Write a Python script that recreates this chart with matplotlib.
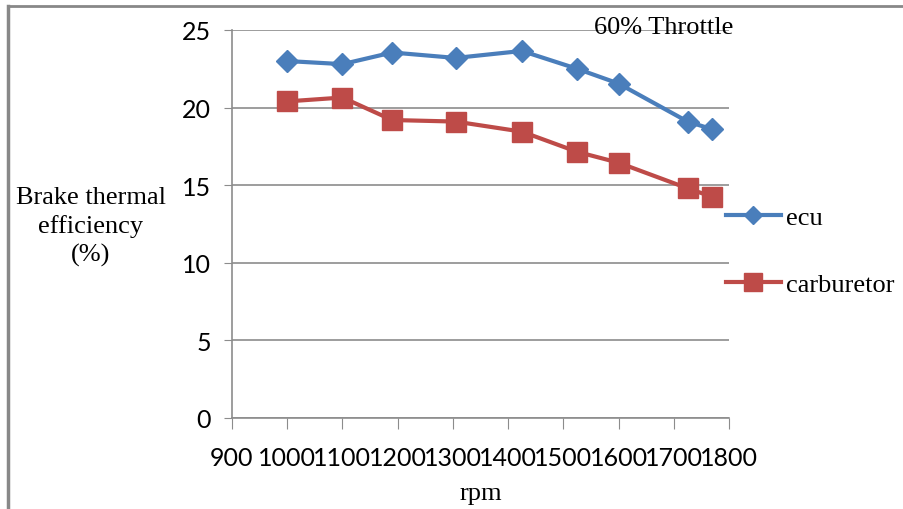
import matplotlib.pyplot as plt
from matplotlib.lines import Line2D

rpm = [1000, 1100, 1190, 1305, 1425, 1525, 1600, 1725, 1770]
ecu = [23.0, 22.8, 23.55, 23.2, 23.65, 22.5, 21.55, 19.1, 18.6]
carburetor = [20.4, 20.65, 19.2, 19.1, 18.45, 17.15, 16.45, 14.8, 14.25]

x_ticks = list(range(900, 1801, 100))
y_ticks = [0, 5, 10, 15, 20, 25]

SERIF = 'Liberation Serif'
SANS = 'Lato'
GRID = '#8c8c8c'


def main():
    fig = plt.figure(figsize=(9.04, 5.10), dpi=100)
    ax = fig.add_axes([232 / 904, 1 - 419 / 510, 497 / 904, 388 / 510])

    ax.plot(rpm, ecu, color='#4a7ebb', lw=3, marker='D', ms=11,
            label='ecu', zorder=3)
    ax.plot(rpm, carburetor, color='#be4b48', lw=3, marker='s', ms=14.5,
            label='carburetor', zorder=3)

    ax.set_xlim(900, 1800)
    ax.set_ylim(0, 25)
    ax.set_xticks(x_ticks)
    ax.set_yticks(y_ticks)
    ax.tick_params(axis='x', direction='out', length=8, color=GRID,
                   labelsize=18, pad=12)
    ax.tick_params(axis='y', direction='out', length=6, color=GRID,
                   labelsize=18, pad=9)
    for lab in ax.get_xticklabels() + ax.get_yticklabels():
        lab.set_fontfamily(SANS)

    ax.grid(axis='y', color=GRID, lw=1.2)
    ax.set_axisbelow(True)
    for side in ['top', 'right']:
        ax.spines[side].set_visible(False)
    for side in ['left', 'bottom']:
        ax.spines[side].set_color(GRID)
        ax.spines[side].set_linewidth(1.2)

    fig.text(91 / 904, 1 - 227 / 510, 'Brake thermal\nefficiency\n(%)',
             family=SERIF, fontsize=19, ha='center', va='center',
             linespacing=1.32)
    fig.text(481 / 904, 1 - 494 / 510, 'rpm', family=SERIF, fontsize=19,
             ha='center', va='center')
    fig.text(733 / 904, 1 - 28 / 510, '60% Throttle', family=SERIF,
             fontsize=19, ha='right', va='center')

    ax.legend(loc='upper left', bbox_to_anchor=(702 / 904, 1 - 183 / 510),
              bbox_transform=fig.transFigure, frameon=False,
              prop={'family': SERIF, 'size': 19}, handlelength=2.1,
              labelspacing=1.66, handletextpad=0.2, markerscale=0.85)

    fig.add_artist(Line2D([8 / 904, 8 / 904], [0, 1 - 7 / 510],
                          color='#888888', lw=2.5))
    fig.add_artist(Line2D([8 / 904, 1], [1 - 7 / 510, 1 - 7 / 510],
                          color='#888888', lw=2))

    fig.savefig('out.png', dpi=100)


if __name__ == "__main__":
    main()
